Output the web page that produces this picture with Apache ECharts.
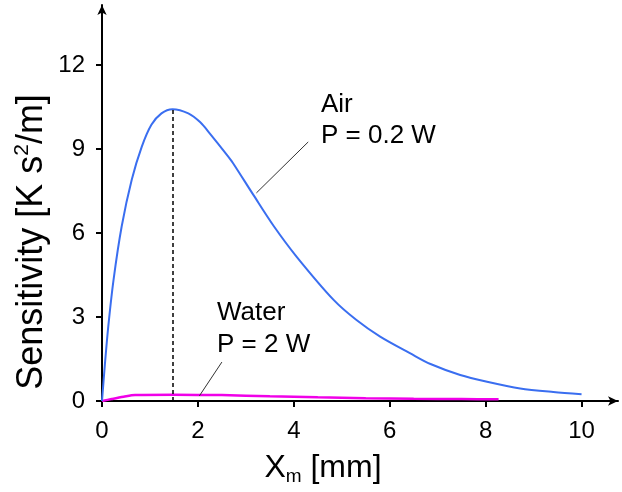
<!DOCTYPE html>
<html>
<head>
    <meta charset="UTF-8">
    <title>Sensitivity</title>
    <script src="https://cdn.jsdelivr.net/npm/echarts@6/dist/echarts.min.js"></script>
    <style>
        body { margin: 0; background: #fff; }
        #container { width: 622px; height: 492px; }
    </style>
</head>
<body>
    <div id="container"></div>
<script>
    // data
    var airX = [0, 0.06, 0.13, 0.24, 0.41, 0.62, 0.83, 1.03, 1.24, 1.47, 1.8, 2.05, 2.25, 2.6, 2.73, 3.16, 3.58, 4.06, 4.83, 5.3, 5.8, 6.43, 6.85, 7.47, 8.03, 8.72, 9.41, 10];
    var airY = [0, 1.3, 2.65, 4.32, 6.23, 7.9, 9.08, 9.86, 10.27, 10.42, 10.27, 9.95, 9.55, 8.8, 8.5, 7.35, 6.25, 5.15, 3.61, 2.9, 2.3, 1.7, 1.32, 0.93, 0.69, 0.45, 0.32, 0.24];
    var waterX = [0, 0.2, 0.45, 0.69, 1.5, 2.5, 3.5, 4.5, 5.5, 6.5, 7.5, 8.27];
    var waterY = [0, 0.07, 0.15, 0.21, 0.22, 0.21, 0.17, 0.13, 0.1, 0.08, 0.07, 0.06];
    var peakX = 1.47;
    var peakY = 10.42;
    var xTicks = [0, 2, 4, 6, 8, 10];
    var yTicks = [0, 3, 6, 9, 12];
    var airLeader = [[4.3, 9.25], [3.22, 7.43]];
    var waterLeader = [[2.5, 1.39], [2.03, 0.18]];

    var FONT = 'Liberation Sans, Arial, sans-serif';

    function pairs(xs, ys) {
        var out = [];
        for (var i = 0; i < xs.length; i++) {
            out.push([xs[i], ys[i]]);
        }
        return out;
    }

    var mycharts = echarts.init(document.getElementById('container'));

    var option = {
        backgroundColor: '#fff',
        animation: false,
        grid: { left: 102, right: 4, top: 5, bottom: 91 },
        xAxis: {
            type: 'value',
            min: 0,
            max: 10.76,
            splitLine: { show: false },
            axisLine: {
                lineStyle: { color: '#000', width: 2 },
                symbol: ['none', 'arrow'],
                symbolSize: [7, 10]
            },
            axisTick: {
                customValues: xTicks,
                length: 6,
                lineStyle: { color: '#000', width: 2 }
            },
            axisLabel: {
                customValues: xTicks,
                color: '#000',
                fontSize: 24,
                fontFamily: FONT,
                margin: 18
            }
        },
        yAxis: {
            type: 'value',
            min: 0,
            max: 14.14,
            splitLine: { show: false },
            axisLine: {
                lineStyle: { color: '#000', width: 2 },
                symbol: ['none', 'arrow'],
                symbolSize: [7, 10]
            },
            axisTick: {
                customValues: yTicks,
                length: 6,
                lineStyle: { color: '#000', width: 2 }
            },
            axisLabel: {
                customValues: yTicks,
                color: '#000',
                fontSize: 24,
                fontFamily: FONT,
                margin: 17
            }
        },
        series: [
            {
                name: 'Air',
                type: 'line',
                data: pairs(airX, airY),
                showSymbol: false,
                smooth: 0.3,
                lineStyle: { color: '#3a6ef0', width: 2 },
                z: 3,
                markLine: {
                    silent: true,
                    symbol: ['none', 'none'],
                    label: { show: false },
                    lineStyle: { color: '#000', width: 1.5, type: [4, 3] },
                    data: [[{ coord: [peakX, 0] }, { coord: [peakX, peakY] }]]
                }
            },
            {
                name: 'Water',
                type: 'line',
                data: pairs(waterX, waterY),
                showSymbol: false,
                smooth: 0.3,
                lineStyle: { color: '#f000e8', width: 2.5 },
                z: 2
            },
            {
                name: 'airLeader',
                type: 'line',
                data: airLeader,
                showSymbol: false,
                silent: true,
                lineStyle: { color: '#333', width: 1 }
            },
            {
                name: 'waterLeader',
                type: 'line',
                data: waterLeader,
                showSymbol: false,
                silent: true,
                lineStyle: { color: '#333', width: 1 }
            }
        ],
        graphic: [
            {
                type: 'text',
                x: 32, y: 242,
                rotation: Math.PI / 2,
                style: {
                    text: '{n|Sensitivity [K s}{sup|2}{n|/m]}',
                    align: 'center',
                    verticalAlign: 'middle',
                    fill: '#000',
                    rich: {
                        n: { fontSize: 36, fontFamily: FONT, color: '#000', lineHeight: 40 },
                        sup: { fontSize: 21, fontFamily: FONT, color: '#000', lineHeight: 21, verticalAlign: 'top' }
                    }
                }
            },
            {
                type: 'text',
                x: 323, y: 468,
                style: {
                    text: '{n|X}{sub|m}{n| [mm]}',
                    align: 'center',
                    verticalAlign: 'middle',
                    fill: '#000',
                    rich: {
                        n: { fontSize: 32, fontFamily: FONT, color: '#000', lineHeight: 36 },
                        sub: { fontSize: 19, fontFamily: FONT, color: '#000', lineHeight: 19, verticalAlign: 'bottom' }
                    }
                }
            },
            {
                type: 'text',
                x: 321, y: 105,
                style: { text: 'Air', font: '26px ' + FONT, fill: '#000', verticalAlign: 'middle' }
            },
            {
                type: 'text',
                x: 321, y: 136,
                style: { text: 'P = 0.2 W', font: '26px ' + FONT, fill: '#000', verticalAlign: 'middle' }
            },
            {
                type: 'text',
                x: 217, y: 313,
                style: { text: 'Water', font: '26px ' + FONT, fill: '#000', verticalAlign: 'middle' }
            },
            {
                type: 'text',
                x: 217, y: 345,
                style: { text: 'P = 2 W', font: '26px ' + FONT, fill: '#000', verticalAlign: 'middle' }
            }
        ]
    };

    mycharts.setOption(option);
</script>
</body>
</html>
